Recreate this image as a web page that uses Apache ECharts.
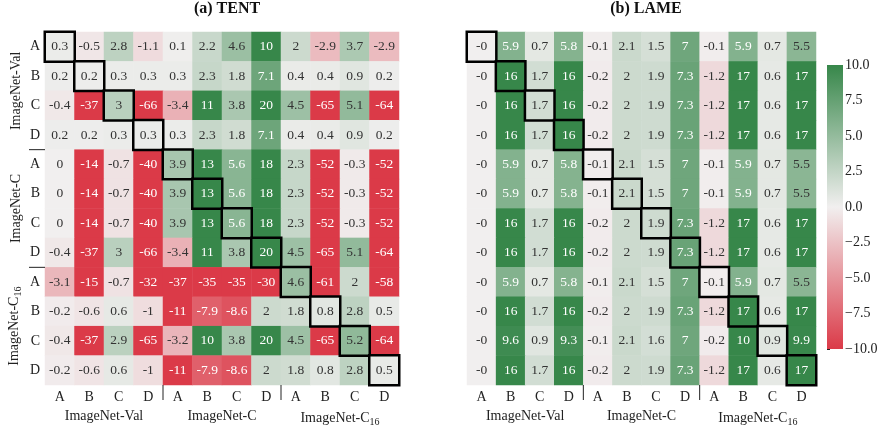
<!DOCTYPE html>
<html><head><meta charset="utf-8">
<script src="https://cdn.jsdelivr.net/npm/echarts@6/dist/echarts.min.js"></script>
<style>html,body{margin:0;padding:0;background:#fff}#c{width:883px;height:429px}</style>
</head><body><div id="c"></div>
<script>
const cols = ['A','B','C','D','A','B','C','D','A','B','C','D'];
const groups = ['ImageNet-Val','ImageNet-C','ImageNet-C16'];
const groupStarts = [4, 8];
const cbTicks = [-10,-7.5,-5,-2.5,0,2.5,5,7.5,10];

// (a) TENT rows, grouped by row dataset
const tentVal = [
  [0.3,-0.5,2.8,-1.1,0.1,2.2,4.6,10,2,-2.9,3.7,-2.9],
  [0.2,0.2,0.3,0.3,0.3,2.3,1.8,7.1,0.4,0.4,0.9,0.2],
  [-0.4,-37,3,-66,-3.4,11,3.8,20,4.5,-65,5.1,-64],
  [0.2,0.2,0.3,0.3,0.3,2.3,1.8,7.1,0.4,0.4,0.9,0.2]
];
const tentC = [
  [0,-14,-0.7,-40,3.9,13,5.6,18,2.3,-52,-0.3,-52],
  [0,-14,-0.7,-40,3.9,13,5.6,18,2.3,-52,-0.3,-52],
  [0,-14,-0.7,-40,3.9,13,5.6,18,2.3,-52,-0.3,-52],
  [-0.4,-37,3,-66,-3.4,11,3.8,20,4.5,-65,5.1,-64]
];
const tentC16 = [
  [-3.1,-15,-0.7,-32,-37,-35,-35,-30,4.6,-61,2,-58],
  [-0.2,-0.6,0.6,-1,-11,-7.9,-8.6,2,1.8,0.8,2.8,0.5],
  [-0.4,-37,2.9,-65,-3.2,10,3.8,20,4.5,-65,5.2,-64],
  [-0.2,-0.6,0.6,-1,-11,-7.9,-8.6,2,1.8,0.8,2.8,0.5]
];
// (b) LAME rows
const lameVal = [
  [-0,5.9,0.7,5.8,-0.1,2.1,1.5,7,-0.1,5.9,0.7,5.5],
  [-0,16,1.7,16,-0.2,2,1.9,7.3,-1.2,17,0.6,17],
  [-0,16,1.7,16,-0.2,2,1.9,7.3,-1.2,17,0.6,17],
  [-0,16,1.7,16,-0.2,2,1.9,7.3,-1.2,17,0.6,17]
];
const lameC = [
  [-0,5.9,0.7,5.8,-0.1,2.1,1.5,7,-0.1,5.9,0.7,5.5],
  [-0,5.9,0.7,5.8,-0.1,2.1,1.5,7,-0.1,5.9,0.7,5.5],
  [-0,16,1.7,16,-0.2,2,1.9,7.3,-1.2,17,0.6,17],
  [-0,16,1.7,16,-0.2,2,1.9,7.3,-1.2,17,0.6,17]
];
const lameC16 = [
  [-0,5.9,0.7,5.8,-0.1,2.1,1.5,7,-0.1,5.9,0.7,5.5],
  [-0,16,1.7,16,-0.2,2,1.9,7.3,-1.2,17,0.6,17],
  [-0,9.6,0.9,9.3,-0.1,2.1,1.6,7,-0.2,10,0.9,9.9],
  [-0,16,1.7,16,-0.2,2,1.9,7.3,-1.2,17,0.6,17]
];

const FONT = '"Liberation Serif", "DejaVu Serif", serif';
const RED = '#db3a48', MID = '#f1efef', GREEN = '#37874a';
const INK = '#222';

function fmt(v){ return Object.is(v,-0) ? '-0' : String(v); }
function build(rows, diag){
  const out = [];
  rows.forEach((r, y) => r.forEach((v, x) => {
    if (diag && x !== y) return;
    const c = Math.max(-10, Math.min(10, v));
    out.push({value:[x, y, c], raw: v,
      label:{color: (v > 5.55 || v < -5) ? '#ffffff' : '#333333'}});
  }));
  return out;
}
const tentRows = tentVal.concat(tentC, tentC16);
const lameRows = lameVal.concat(lameC, lameC16);

function groupFmt(v){ return v === 'ImageNet-C16' ? 'ImageNet-C{sub|16}' : v; }
const rich = {sub:{fontSize:10, fontFamily:FONT, color:INK, padding:[8,0,0,0]}};

function xAxes(gi){
  return [
    {type:'category', gridIndex:gi, data:cols, position:'bottom',
     axisLine:{show:false}, axisTick:{show:false},
     axisLabel:{fontFamily:FONT, fontSize:14, color:INK, margin:5, interval:0}},
    {type:'category', gridIndex:gi, data:groups, position:'bottom',
     axisLine:{show:false}, axisTick:{show:false},
     axisLabel:{fontFamily:FONT, fontSize:14, color:INK, margin:24, interval:0, formatter:groupFmt, rich}}
  ];
}
const heatLabel = {show:true, fontFamily:FONT, fontSize:13.5,
  formatter:(p)=> fmt(p.data.raw)};

// separator lines below x axis (between column groups)
function xSep(xi, yi){
  return {type:'custom', xAxisIndex:xi, yAxisIndex:yi, clip:false, silent:true, z:5,
    data: groupStarts.map(g=>[g, 11]),
    renderItem:(params, api)=>{
      const p = api.coord([api.value(0), api.value(1)]);
      const s = api.size([1,1]);
      const x = p[0] - s[0]/2, y0 = p[1] + s[1]/2;
      return {type:'line', shape:{x1:x, y1:y0, x2:x, y2:y0+15}, style:{stroke:INK, lineWidth:1}};
    }};
}
function ySep(xi, yi){
  return {type:'custom', xAxisIndex:xi, yAxisIndex:yi, clip:false, silent:true, z:5,
    data: groupStarts.map(g=>[0, g]),
    renderItem:(params, api)=>{
      const p = api.coord([api.value(0), api.value(1)]);
      const s = api.size([1,1]);
      const x1 = p[0] - s[0]/2, y = p[1] - s[1]/2;
      return {type:'line', shape:{x1:x1-16, y1:y, x2:x1, y2:y}, style:{stroke:INK, lineWidth:1}};
    }};
}

const titleRich = {n:{fontFamily:FONT,fontSize:16,color:'#111'}, b:{fontFamily:FONT,fontSize:16,fontWeight:'bold',color:'#111'}};
const option = {
  animation:false,
  title:[
    {text:'{n|(a) }{b|TENT}', left:222, top:-4, textAlign:'center', textStyle:{rich:titleRich}},
    {text:'{n|(b) }{b|LAME}', left:641, top:-4, textAlign:'center', textStyle:{rich:titleRich}}
  ],
  grid:[
    {left:45, top:32, width:354, height:353},
    {left:467, top:32, width:349, height:353},
    {left:827, top:65, width:16, height:284}
  ],
  xAxis: xAxes(0).concat(xAxes(1), [
    {type:'value', gridIndex:2, min:0, max:1, show:false}
  ]),
  yAxis:[
    {type:'category', gridIndex:0, data:cols, inverse:true, position:'left',
     axisLine:{show:false}, axisTick:{show:false},
     axisLabel:{fontFamily:FONT, fontSize:14, color:INK, margin:5, interval:0}},
    {type:'category', gridIndex:0, data:groups, inverse:true, position:'left',
     axisLine:{show:false}, axisTick:{show:false},
     axisLabel:{fontFamily:FONT, fontSize:14, color:INK, margin:22, rotate:90, interval:0, formatter:groupFmt, rich}},
    {type:'category', gridIndex:1, data:cols, inverse:true, show:false},
    {type:'value', gridIndex:2, min:-10, max:10, interval:2.5, position:'right',
     axisLine:{show:false}, splitLine:{show:false},
     axisTick:{show:true, length:3, lineStyle:{color:INK}},
     axisLabel:{fontFamily:FONT, fontSize:14, color:INK, margin:2,
       formatter:(v)=> (v<0 ? '\u2212' : '') + Math.abs(v).toFixed(1)}}
  ],
  visualMap:{type:'continuous', show:false, min:-10, max:10, dimension:2,
    seriesIndex:[0,1,2,3], inRange:{color:[RED, MID, GREEN]}},
  series:[
    {type:'heatmap', xAxisIndex:0, yAxisIndex:0, data:build(tentRows,false), label:heatLabel,
     emphasis:{disabled:true}, z:2},
    {type:'heatmap', xAxisIndex:2, yAxisIndex:2, data:build(lameRows,false), label:heatLabel,
     emphasis:{disabled:true}, z:2},
    {type:'heatmap', xAxisIndex:0, yAxisIndex:0, data:build(tentRows,true), label:heatLabel,
     itemStyle:{borderColor:'#000', borderWidth:2.5}, emphasis:{disabled:true}, z:3},
    {type:'heatmap', xAxisIndex:2, yAxisIndex:2, data:build(lameRows,true), label:heatLabel,
     itemStyle:{borderColor:'#000', borderWidth:2.5}, emphasis:{disabled:true}, z:3},
    {type:'custom', xAxisIndex:4, yAxisIndex:3, data:[[0, cbTicks[0], cbTicks[cbTicks.length-1]]],
     renderItem:(params, api)=>{
       const p1 = api.coord([0, api.value(2)]);
       const p2 = api.coord([1, api.value(1)]);
       return {type:'rect', shape:{x:p1[0], y:p1[1], width:p2[0]-p1[0], height:p2[1]-p1[1]},
         style:{fill:new echarts.graphic.LinearGradient(0,0,0,1,[
           {offset:0,color:GREEN},{offset:0.5,color:MID},{offset:1,color:RED}])}};
     }},
    xSep(0,0), ySep(0,0), xSep(2,2)
  ]
};
const chart = echarts.init(document.getElementById('c'), null, {renderer:'canvas'});
chart.setOption(option);
</script></body></html>
